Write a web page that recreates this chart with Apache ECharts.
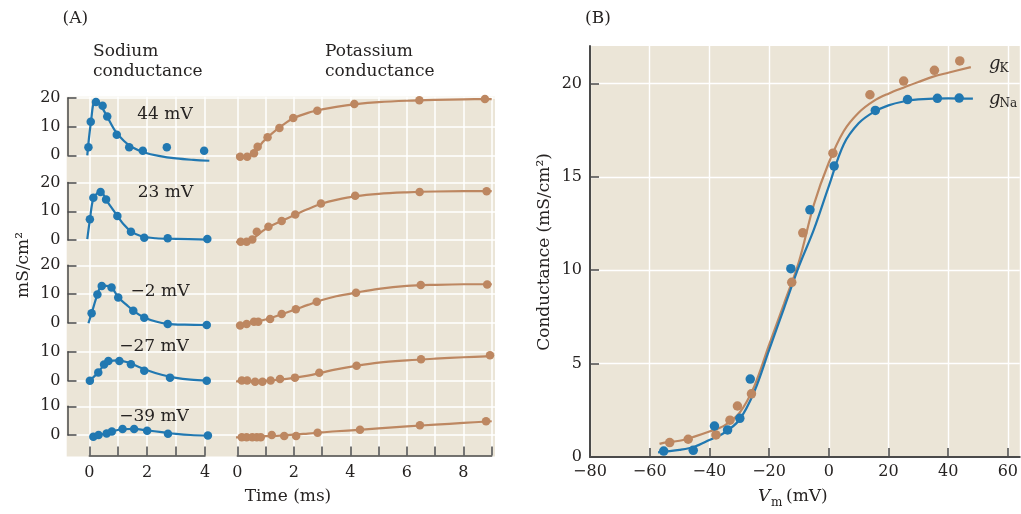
<!DOCTYPE html>
<html><head><meta charset="utf-8">
<script src="https://cdn.jsdelivr.net/npm/echarts@6/dist/echarts.min.js"></script>
<style>html,body{margin:0;padding:0;background:#fff}#c{width:1021px;height:514px}</style>
</head><body><div id="c"></div>
<script>
// ---------- DATA ----------
const rowLabels = ['44 mV', '23 mV', '\u22122 mV', '\u221227 mV', '\u221239 mV'];
const rowMax = [20, 20, 20, 10, 10];
const naTicks = [0, 1, 2, 3, 4];
const kTicks = [0, 1, 2, 3, 4, 5, 6, 7, 8, 9];

const naPts44 = [[-0.03,2.8],[0.05,11.7],[0.23,18.6],[0.46,17.3],[0.62,13.5],[0.95,7.2],[1.38,2.8],[1.85,1.6],[2.68,2.8],[3.97,1.6]];
const naFit44 = [[-0.07,0],[0.05,11],[0.2,18.8],[0.4,17.2],[0.6,13.8],[0.9,8.4],[1.2,5.0],[1.5,2.7],[1.9,1.0],[2.4,-0.2],[3.0,-1.1],[3.6,-1.6],[4.15,-1.9]];
const naPts23 = [[0.02,7.2],[0.14,14.7],[0.39,16.7],[0.58,14.1],[0.97,8.4],[1.44,2.9],[1.9,0.8],[2.71,0.6],[4.08,0.35]];
const naFit23 = [[-0.07,0.3],[0.02,7],[0.14,14.5],[0.3,16.6],[0.4,16.9],[0.58,14.1],[0.75,11.5],[0.97,8.4],[1.2,5.3],[1.44,3.0],[1.8,1.3],[2.3,0.6],[3.0,0.4],[4.1,0.1]];
const naPtsM2 = [[0.08,3.3],[0.28,9.8],[0.43,12.8],[0.77,12.3],[1.0,8.8],[1.52,4.2],[1.9,1.7],[2.71,-0.45],[4.06,-0.8]];
const naFitM2 = [[-0.03,-0.2],[0.08,3.3],[0.28,9.8],[0.43,12.8],[0.6,12.8],[0.77,12.3],[1.0,8.9],[1.3,6.1],[1.6,3.6],[1.9,1.8],[2.3,0.4],[2.71,-0.4],[3.3,-0.7],[4.1,-0.8]];
const naPtsM27 = [[0.02,-0.1],[0.31,2.8],[0.51,5.6],[0.66,6.8],[1.04,6.8],[1.44,5.7],[1.9,3.4],[2.79,1.0],[4.06,-0.1]];
const naFitM27 = [[0.02,0],[0.31,2.9],[0.51,5.4],[0.7,6.7],[1.0,7.0],[1.3,6.4],[1.6,5.2],[2.0,3.6],[2.5,2.0],[3.0,0.9],[3.5,0.3],[4.06,0]];
const naPtsM39 = [[0.14,-0.6],[0.32,0],[0.6,0.5],[0.78,1.2],[1.15,2.1],[1.55,2.1],[2.0,1.5],[2.72,0.4],[4.1,-0.2]];
const naFitM39 = [[0.1,-0.6],[0.32,0],[0.6,0.6],[0.8,1.3],[1.15,2.0],[1.55,2.1],[2.0,1.6],[2.5,1.0],[3.0,0.4],[3.5,0.0],[4.1,-0.2]];

const kPts44 = [[0.1,-0.5],[0.35,-0.5],[0.59,0.7],[0.72,3.0],[1.07,6.3],[1.49,9.5],[1.98,13.0],[2.83,15.5],[4.14,17.9],[6.44,19.2],[8.76,19.6]];
const kFit44 = [[-0.14,0],[0.3,-0.3],[0.6,0.8],[0.9,4.6],[1.2,7.4],[1.6,10.5],[2.0,13.0],[2.5,14.8],[3.0,16.0],[3.5,16.9],[4.2,17.8],[5,18.5],[6,19.0],[7,19.3],[8,19.5],[9,19.6]];
const kPts23 = [[0.12,-0.6],[0.33,-0.6],[0.53,0.2],[0.69,2.9],[1.1,4.6],[1.57,6.6],[2.05,8.9],[2.96,12.7],[4.17,15.4],[6.45,16.7],[8.82,17.0]];
const kFit23 = [[-0.14,-0.7],[0.3,-0.5],[0.6,0.8],[0.9,3.2],[1.2,5.0],[1.6,6.8],[2.0,8.6],[2.5,10.8],[3.0,12.7],[3.5,14.0],[4.2,15.3],[5,16.1],[6,16.6],[7,16.9],[8,17.0],[9,17.0]];
const kPtsM2 = [[0.1,-1.0],[0.33,-0.45],[0.59,0.35],[0.74,0.35],[1.16,1.3],[1.57,3.0],[2.07,4.7],[2.81,7.3],[4.2,10.4],[6.49,13.1],[8.84,13.3]];
const kFitM2 = [[-0.14,-1.0],[0.5,0],[1.0,1.1],[1.5,2.7],[2.0,4.4],[2.5,6.2],[3.0,7.9],[3.5,9.2],[4.2,10.5],[5,11.8],[6,12.8],[7,13.2],[8,13.4],[9,13.4]];
const kPtsM27 = [[0.16,0],[0.35,0],[0.63,-0.4],[0.89,-0.4],[1.18,0],[1.51,0.5],[2.04,1.0],[2.9,2.7],[4.22,5.1],[6.5,7.4],[8.94,8.8]];
const kFitM27 = [[-0.14,-0.3],[0.5,-0.2],[1.0,-0.1],[1.5,0.3],[2.0,0.9],[2.5,1.7],[3.0,2.8],[3.5,3.9],[4.2,5.1],[5,6.2],[6,7.0],[7,7.6],[8,8.1],[9,8.5]];
const kPtsM39 = [[0.16,-0.8],[0.33,-0.8],[0.53,-0.8],[0.69,-0.8],[0.83,-0.8],[1.22,0],[1.66,-0.36],[2.08,-0.36],[2.84,0.8],[4.34,1.8],[6.46,3.4],[8.8,4.8]];
const kFitM39 = [[-0.14,-0.8],[0.5,-0.7],[1.0,-0.4],[1.5,-0.2],[2.0,0.1],[2.5,0.5],[3.0,0.9],[3.5,1.3],[4.3,1.8],[5,2.3],[6,3.0],[7,3.6],[8,4.2],[9,4.8]];

const naPts = [naPts44, naPts23, naPtsM2, naPtsM27, naPtsM39];
const naFit = [naFit44, naFit23, naFitM2, naFitM27, naFitM39];
const kPts = [kPts44, kPts23, kPtsM2, kPtsM27, kPtsM39];
const kFit = [kFit44, kFit23, kFitM2, kFitM27, kFitM39];

const gKPts = [[-53.3,0.77],[-47.1,0.95],[-37.8,1.18],[-33.1,1.97],[-30.6,2.73],[-25.9,3.38],[-12.4,9.35],[-8.7,12.0],[1.4,16.26],[13.8,19.39],[25.1,20.12],[35.4,20.7],[43.9,21.2]];
const gNaPts = [[-55.3,0.32],[-45.4,0.36],[-38.3,1.66],[-33.9,1.45],[-29.8,2.07],[-26.3,4.17],[-12.7,10.08],[-6.3,13.23],[1.8,15.57],[15.6,18.55],[26.4,19.13],[36.4,19.2],[43.7,19.21]];
const gKFit = [[-56.7,0.7],[-55,0.77],[-50,0.87],[-45,1.09],[-40,1.36],[-35,1.68],[-30,2.34],[-25,3.77],[-20,6.0],[-15,8.2],[-10,10.45],[-5,13.5],[0,15.75],[5,17.44],[10,18.43],[15,19.05],[20,19.45],[25,19.77],[30,20.07],[35,20.36],[40,20.57],[47.6,20.87]];
const gNaFit = [[-57.2,0.25],[-55,0.29],[-50,0.38],[-45,0.55],[-40,0.91],[-35,1.3],[-30,1.98],[-25,3.48],[-20,5.72],[-15,7.96],[-10,10.2],[-5,12.17],[0,14.49],[5,16.73],[10,17.86],[15,18.46],[20,18.82],[25,19.03],[30,19.14],[40,19.2],[48.3,19.18]];
const vmTicks = [-80, -60, -40, -20, 0, 20, 40, 60];
const gTicks = [0, 5, 10, 15, 20];

// ---------- STYLE / LAYOUT ----------
const BLUE = '#2178b1', BROWN = '#bd8761', BG = '#ebe5d7', AX = '#4a4a4a', TXT = '#262322';
const FONT = 'DejaVu Serif';
const rowZero = [155.3, 240, 322.7, 380.5, 435];
const PXU = 2.87;
const NA0 = 89.3, PXT = 28.925;
const K0 = 237.3, KW = 254.4;
const A_L = 66.7, A_R = 495, A_T = 96.7, A_B = 455.5;
const W = 1021, H = 514;
const minus = v => String(v).replace('-', '\u2212');

const grid = [], xAxis = [], yAxis = [], series = [];
grid.push({left: 590, top: 46, width: W - 590, height: 457 - 46, show: true, backgroundColor: BG, borderWidth: 0});
xAxis.push({gridIndex: 0, type: 'value', min: -80, max: 64, interval: 20,
  axisLine: {onZero: false, lineStyle: {color: AX, width: 2}},
  axisTick: {inside: true, length: 9, lineStyle: {color: AX, width: 1.5}, customValues: vmTicks},
  axisLabel: {customValues: vmTicks, formatter: minus, color: TXT, fontFamily: FONT, fontSize: 16, margin: 7},
  splitLine: {show: true, lineStyle: {color: '#ffffff', width: 1.4}}});
yAxis.push({gridIndex: 0, type: 'value', min: 0, max: 22, interval: 5,
  axisLine: {show: true, onZero: false, lineStyle: {color: AX, width: 2}},
  axisTick: {show: true, inside: true, length: 9, lineStyle: {color: AX, width: 1.5}, customValues: gTicks},
  axisLabel: {customValues: gTicks, color: TXT, fontFamily: FONT, fontSize: 16, margin: 8},
  splitLine: {show: true, lineStyle: {color: '#ffffff', width: 1.4}}});

grid.push({left: NA0, top: A_T, width: 4 * PXT, height: A_B - A_T});
grid.push({left: K0, top: A_T, width: KW, height: A_B - A_T});
[[1, 0, 4, naTicks], [2, 0, 9, kTicks]].forEach(([gi, mn, mx, tk]) => {
  xAxis.push({gridIndex: gi, type: 'value', min: mn, max: mx, interval: 1,
    axisLine: {onZero: false, lineStyle: {color: AX, width: 1.5}},
    axisTick: {inside: true, length: 9, lineStyle: {color: AX, width: 1.5}},
    axisLabel: {formatter: v => (v % 2 === 0 && v !== 9) ? String(v) : '', color: TXT, fontFamily: FONT, fontSize: 16, margin: 9},
    splitLine: {show: true, lineStyle: {color: '#ffffff', width: 1.5}}});
  yAxis.push({gridIndex: gi, type: 'value', min: 0, max: 1, show: false});
});

const naMin = -(NA0 - 67.5) / PXT, naMax = naMin + (A_R - 67.5) / PXT;
for (let r = 0; r < 5; r++) {
  const h = rowMax[r] * PXU;
  grid.push({left: 67.5, top: rowZero[r] - h, width: A_R - 67.5, height: h});
}
for (let r = 0; r < 5; r++) {
  const h = rowMax[r] * PXU;
  grid.push({left: K0, top: rowZero[r] - h, width: KW, height: h});
}
for (let r = 0; r < 5; r++) {
  xAxis.push({gridIndex: 3 + r, type: 'value', min: naMin, max: naMax, show: false});
  yAxis.push({gridIndex: 3 + r, type: 'value', min: 0, max: rowMax[r], interval: 10,
    axisLine: {show: true, onZero: false, lineStyle: {color: AX, width: 1.5}},
    axisTick: {show: true, inside: true, length: 9, lineStyle: {color: AX, width: 1.5}},
    axisLabel: {color: TXT, fontFamily: FONT, fontSize: 16, margin: 7},
    splitLine: {show: true, lineStyle: {color: '#ffffff', width: 1.5}}});
}
for (let r = 0; r < 5; r++) {
  xAxis.push({gridIndex: 8 + r, type: 'value', min: 0, max: 9, show: false});
  yAxis.push({gridIndex: 8 + r, type: 'value', min: 0, max: rowMax[r], show: false});
}

const lineS = (data, xi, color) => ({type: 'line', xAxisIndex: xi, yAxisIndex: xi, data, smooth: 0.35,
  showSymbol: false, clip: false, silent: true, lineStyle: {color, width: 2.2}, z: 3});
const ptsS = (data, xi, color, size) => ({type: 'scatter', xAxisIndex: xi, yAxisIndex: xi, data,
  symbol: 'circle', symbolSize: size, clip: false, silent: true, itemStyle: {color, opacity: 1}, z: 4});

for (let r = 0; r < 5; r++) {
  series.push(lineS(naFit[r], 3 + r, BLUE), ptsS(naPts[r], 3 + r, BLUE, 8.5));
  series.push(lineS(kFit[r], 8 + r, BROWN), ptsS(kPts[r], 8 + r, BROWN, 8.5));
}
series.push(lineS(gKFit, 0, BROWN), lineS(gNaFit, 0, BLUE));
series.push(ptsS(gKPts, 0, BROWN, 9.5), ptsS(gNaPts, 0, BLUE, 9.5));

const t = (text, x, y, o = {}) => ({type: 'text', x, y, rotation: o.rot || 0, silent: true, z: 10,
  style: {text, fill: TXT, font: (o.style || 'normal') + ' ' + (o.size || 17) + 'px "' + FONT + '"',
    align: o.align || 'center', verticalAlign: o.va || 'middle', lineHeight: o.lh}});
const labelPos = [[165, 115], [165.5, 192.7], [160, 291.7], [154, 346.7], [154, 416.7]];
const graphic = [
  {type: 'rect', shape: {x: A_L, y: A_T, width: A_R - A_L, height: A_B - A_T + 1}, style: {fill: BG}, z: -10, silent: true},
  t('(A)', 62.5, 18.5, {align: 'left', size: 17}),
  t('(B)', 585, 18.5, {align: 'left', size: 17}),
  t('Sodium\nconductance', 93, 61.7, {align: 'left', lh: 20}),
  t('Potassium\nconductance', 325, 61.7, {align: 'left', lh: 20}),
  t('mS/cm\u00B2', 24, 265, {rot: Math.PI / 2}),
  t('Time (ms)', 288, 497),
  t('Conductance (mS/cm\u00B2)', 545, 252, {rot: Math.PI / 2}),
  t('V', 758, 497, {align: 'left', style: 'italic'}),
  t('m', 771, 503, {align: 'left', size: 12}),
  t('(mV)', 786, 497, {align: 'left'}),
  t('g', 989, 64, {align: 'left', style: 'italic', size: 18}),
  t('K', 999.5, 69, {align: 'left', size: 12}),
  t('g', 989, 99, {align: 'left', style: 'italic', size: 18}),
  t('Na', 999.5, 104, {align: 'left', size: 12})
];
rowLabels.forEach((s, i) => graphic.push(t(s, labelPos[i][0], labelPos[i][1])));

const chart = echarts.init(document.getElementById('c'), null, {renderer: 'canvas', width: W, height: H});
chart.setOption({animation: false, backgroundColor: '#ffffff', grid, xAxis, yAxis, series, graphic});
</script></body></html>
